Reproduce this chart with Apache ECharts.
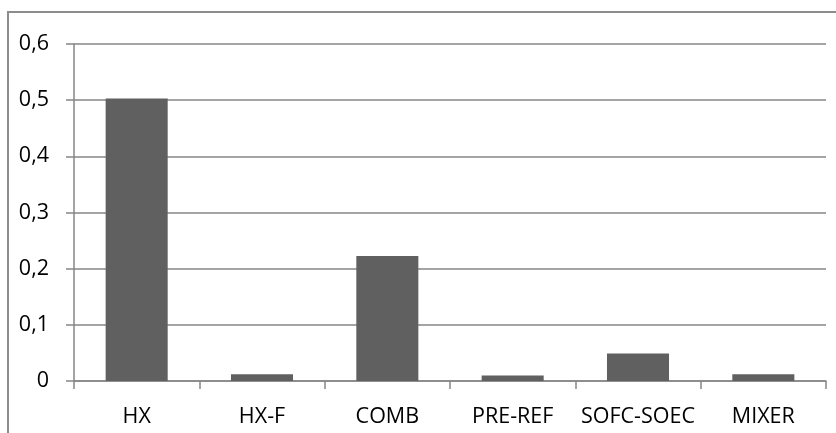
<!DOCTYPE html>
<html>
<head>
<meta charset="utf-8">
<script src="https://cdn.jsdelivr.net/npm/echarts@6/dist/echarts.min.js"></script>
<style>
  html, body { margin: 0; padding: 0; background: #ffffff; }
  #chart { width: 836px; height: 433px; }
</style>
</head>
<body>
<div id="chart"></div>
<script>
// Component names along the category axis
var categories = ['HX', 'HX-F', 'COMB', 'PRE-REF', 'SOFC-SOEC', 'MIXER'];
// Value for each component
var values = [0.503, 0.012, 0.2225, 0.010, 0.049, 0.012];
// Value axis range
var yMin = 0, yMax = 0.6, yStep = 0.1;

var chart = echarts.init(document.getElementById('chart'), null, { renderer: 'canvas' });
var font = '"Open Sans", "Liberation Sans", sans-serif';

chart.setOption({
  animation: false,
  backgroundColor: '#ffffff',
  graphic: [{
    type: 'rect',
    shape: { x: 8, y: 12, width: 840, height: 440 },
    style: { fill: 'none', stroke: '#8c8c8c', lineWidth: 2 },
    silent: true
  }],
  grid: { left: 74, right: 10, top: 44, bottom: 52, containLabel: false },
  xAxis: {
    type: 'category',
    data: categories,
    boundaryGap: true,
    axisLine: { show: true, lineStyle: { color: '#868686', width: 1.5 } },
    axisTick: { show: true, length: 8, alignWithLabel: false, lineStyle: { color: '#868686', width: 1.5 } },
    axisLabel: {
      color: '#000000', fontFamily: font, fontSize: 21.5, margin: 25,
      interval: 0, hideOverlap: false
    },
    splitLine: { show: false }
  },
  yAxis: {
    type: 'value',
    min: yMin,
    max: yMax,
    interval: yStep,
    axisLine: { show: true, lineStyle: { color: '#868686', width: 1.5 } },
    axisTick: { show: true, length: 8, lineStyle: { color: '#868686', width: 1.5 } },
    axisLabel: {
      color: '#000000', fontFamily: font, fontSize: 21.5, margin: 25,
      formatter: function (v) { return String(Math.round(v * 10) / 10).replace('.', ','); }
    },
    splitLine: { show: true, lineStyle: { color: '#868686', width: 1.5 } }
  },
  series: [{
    type: 'bar',
    data: values,
    barWidth: '49.5%',
    itemStyle: { color: '#606060' }
  }]
});
</script>
</body>
</html>
